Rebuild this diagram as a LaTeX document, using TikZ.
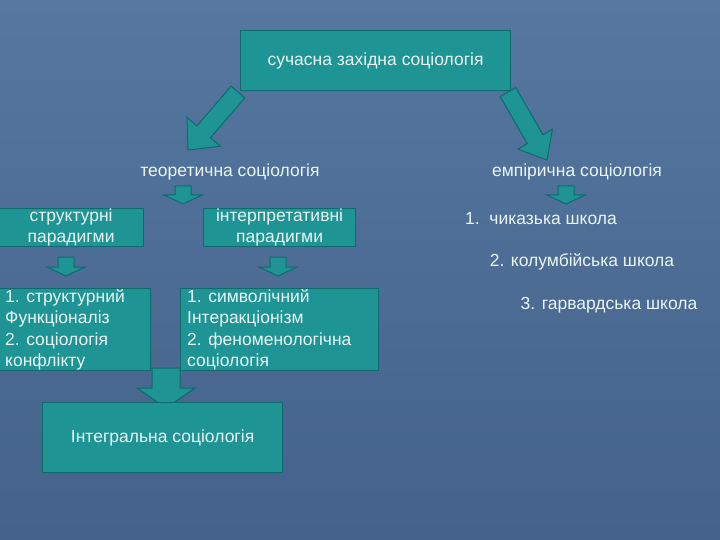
\documentclass[tikz,border=0pt]{standalone}
\usepackage{fontspec}
\setmainfont{Liberation Sans}
\usetikzlibrary{calc}
\definecolor{bgA}{HTML}{5577A0}
\definecolor{bgB}{HTML}{44628A}
\definecolor{boxfill}{HTML}{1E9494}
\definecolor{boxline}{HTML}{0E6A6C}
\definecolor{txt}{HTML}{EAF6F6}
\tikzset{
  box/.style={draw=boxline,line width=1.2pt,fill=boxfill},
  lbl/.style={text=txt,font=\fontsize{17.5}{21.5}\selectfont,inner sep=0pt},
  arr/.style={fill=boxfill,draw=boxline,line width=1pt},
}
% #1 cx, #2 y0, #3 y1, #4 shaft half width, #5 head half width, #6 head length
\newcommand{\downblock}[6]{%
  \draw[arr] ({#1-#4},#2) -- ({#1+#4},#2) -- ({#1+#4},{#3-#6}) -- ({#1+#5},{#3-#6})
    -- (#1,#3) -- ({#1-#5},{#3-#6}) -- ({#1-#4},{#3-#6}) -- cycle;}
\begin{document}
\begin{tikzpicture}[x=1pt,y=-1pt]
\shade[top color=bgA,bottom color=bgB] (0,0) rectangle (720,540);
\useasboundingbox (0,0) rectangle (720,540);
% arrows
\draw[arr] (244.8,97.9) -- (231.2,86.1) -- (196.9,125.9) -- (187.0,117.4) -- (188,150)
  -- (220.4,146.2) -- (210.5,137.7) -- cycle;
\draw[arr] (515.8,87.5) -- (500.2,96.5) -- (527.3,143.7) -- (517.8,149.1) -- (547,160)
  -- (552.4,129.3) -- (542.9,134.7) -- cycle;
\downblock{183}{186}{204}{8}{19}{9}
\downblock{566}{186}{204}{8}{19}{9}
\downblock{66}{257}{276}{8}{19}{9}
\downblock{278}{257}{276}{8}{19}{9}
\downblock{166}{368}{408}{14}{29}{20}
% boxes
\node[box,minimum width=270pt,minimum height=60pt,anchor=north west] (top) at (240,30) {};
\node[lbl] at (top.center) {сучасна західна соціологія};
\node[box,minimum width=145pt,minimum height=38pt,anchor=north west] (str) at (-2,208) {};
\node[lbl,align=center] at (str.center) {структурні\\парадигми};
\node[box,minimum width=152pt,minimum height=38pt,anchor=north west] (int) at (203,208) {};
\node[lbl,align=center] at (int.center) {інтерпретативні\\парадигми};
\node[box,minimum width=152pt,minimum height=82pt,anchor=north west] (sl) at (-2,288) {};
\node[lbl,align=left,anchor=west] at ($(sl.west)+(7,0)$) {1. структурний\\Функціоналіз\\2. соціологія\\конфлікту};
\node[box,minimum width=198pt,minimum height=82pt,anchor=north west] (ml) at (180,288) {};
\node[lbl,align=left,anchor=west] at ($(ml.west)+(7,0)$) {1. символічний\\Інтеракціонізм\\2. феноменологічна\\соціологія};
\node[box,minimum width=240pt,minimum height=70pt,anchor=north west] (ig) at (42,402) {};
\node[lbl] at (ig.center) {Інтегральна соціологія};
% free labels
\node[lbl] (teo) at (230,172) {теоретична соціологія};
\node[lbl] (emp) at (577,172) {емпірична соціологія};
\node[lbl] (s1) at (541,219) {1.\ \ чиказька школа};
\node[lbl] (s2) at (582,262) {2. колумбійська школа};
\node[lbl] (s3) at (609,305) {3. гарвардська школа};
\end{tikzpicture}
\end{document}
